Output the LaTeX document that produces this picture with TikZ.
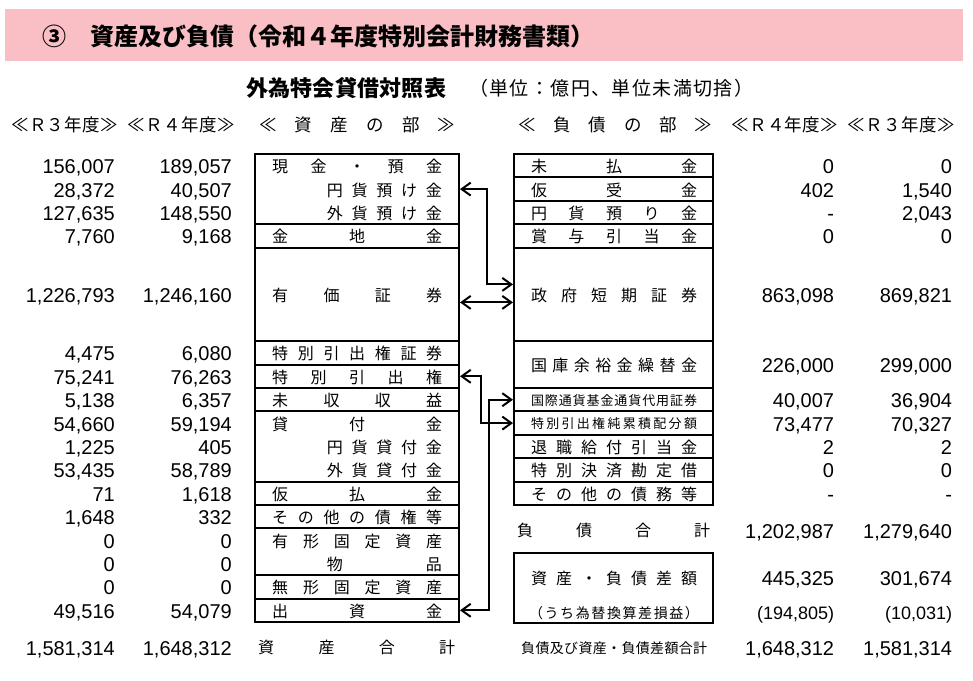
\documentclass[tikz,border=0pt]{standalone}
\usepackage{fontspec}
\usepackage{tikz}
\usetikzlibrary{arrows.meta}
\setmainfont{Noto Sans CJK JP}
\newfontfamily\numfont{Liberation Sans}
\definecolor{bandpink}{RGB}{249,191,197}
\newcommand\spr[2]{\makebox[#1][s]{\expandafter\sprloop#2\relax}}
\def\sprloop#1#2{#1\ifx\relax#2\else\hfil\expandafter\sprloop\expandafter#2\fi}

\begin{document}
\begin{tikzpicture}[x=1pt,y=-1pt,
    cell/.style={draw,line width=2pt,inner sep=0pt,minimum width=204pt},
    rcell/.style={cell,minimum width=199pt},
    jp/.style={inner sep=0pt,font=\fontsize{16}{16}\selectfont},
    smalljp/.style={inner sep=0pt,font=\fontsize{13}{13}\selectfont},
    hd/.style={inner sep=0pt,anchor=base west,font=\fontsize{17.5}{17.5}\selectfont},
    num/.style={inner sep=0pt,anchor=base east,font=\numfont\fontsize{20}{20}\selectfont},
    arr/.style={{Straight Barb[length=9pt,width=13pt]}-{Straight Barb[length=9pt,width=13pt]},line width=2pt}]
\useasboundingbox (0,0) rectangle (973,680);
\fill[bandpink] (5,9.3) rectangle (962.7,60.7);
\node[inner sep=0pt,anchor=base west,font=\bfseries\fontsize{24}{24}\selectfont] (title) at (42,45) {③　資産及び負債（令和４年度特別会計財務書類）};
\node[inner sep=0pt,anchor=base west,font=\bfseries\fontsize{22}{22}\selectfont] (sub) at (246,96) {\spr{200pt}{外為特会貸借対照表}};
\node[inner sep=0pt,anchor=base west,font=\fontsize{19}{19}\selectfont] (unit) at (469,95) {\spr{284pt}{（単位：億円、単位未満切捨）}};
\node[hd] (h1) at (11,131.7) {\spr{107pt}{≪Ｒ３年度≫}};
\node[hd] (h2) at (127,131.7) {\spr{108pt}{≪Ｒ４年度≫}};
\node[hd] (h3) at (259,131.7) {\spr{196pt}{≪資産の部≫}};
\node[hd] (h4) at (518,131.7) {\spr{194pt}{≪負債の部≫}};
\node[hd] (h5) at (731,131.7) {\spr{107pt}{≪Ｒ４年度≫}};
\node[hd] (h6) at (847,131.7) {\spr{108pt}{≪Ｒ３年度≫}};
\foreach \n/\a/\b in {A1/0/3,A2/3/4,A3/4/8,A4/8/9,A5/9/10,A6/10/11,A7/11/14,A8/14/15,A9/15/16,A10/16/18,A11/18/19,A12/19/20}
  \node[cell,minimum height={(\b-\a)*23.4}] (\n) at (357,{154+(\a+\b)/2*23.4}) {};
\foreach \n/\a/\b in {B1/0/1,B2/1/2,B3/2/3,B4/3/4,B5/4/8,B6/8/10,B7/10/11,B8/11/12,B9/12/13,B10/13/14,B11/14/15}
  \node[rcell,minimum height={(\b-\a)*23.4}] (\n) at (613.5,{154+(\a+\b)/2*23.4}) {};
\node[rcell,minimum height=70] (B12) at (613.5,588) {};
\foreach \s/\t [count=\i] in {0/現金・預金,3/金地金,5.5/有価証券,8/特別引出権証券,9/特別引出権,10/未収収益,11/貸付金,14/仮払金,15/その他の債権等,16/有形固定資産,18/無形固定資産,19/出資金}
  \node[jp,anchor=base west] (la\i) at (272,{154+(\s+.5)*23.4+7}) {\spr{170pt}{\t}};
\foreach \s/\t [count=\i] in {1/円貨預け金,2/外貨預け金,12/円貨貸付金,13/外貨貸付金,17/物品}
  \node[jp,anchor=base east] (ls\i) at (442,{154+(\s+.5)*23.4+7}) {\spr{115pt}{\t}};
\foreach \s/\t [count=\i] in {0/未払金,1/仮受金,2/円貨預り金,3/賞与引当金,5.5/政府短期証券,8.5/国庫余裕金繰替金,12/退職給付引当金,13/特別決済勘定借,14/その他の債務等}
  \node[jp,anchor=base] (lr\i) at (614,{154+(\s+.5)*23.4+7}) {\spr{166pt}{\t}};
\foreach \s/\t [count=\i] in {10/国際通貨基金通貨代用証券,11/特別引出権純累積配分額}
  \node[smalljp,anchor=base] (lm\i) at (614,{154+(\s+.5)*23.4+5.5}) {\spr{166pt}{\t}};
\node[jp,anchor=base west] (tA) at (258,653) {\spr{197pt}{資産合計}};
\node[jp,anchor=base west] (tL) at (517,536.5) {\spr{193pt}{負債合計}};
\node[jp,anchor=base] (dif) at (614,584) {\spr{166pt}{資産・負債差額}};
\node[inner sep=0pt,anchor=base,font=\fontsize{14}{14}\selectfont] (difx) at (614,618) {\spr{170pt}{（うち為替換算差損益）}};
\node[inner sep=0pt,anchor=base west,font=\fontsize{14}{14}\selectfont] (tT) at (521,653) {\spr{186pt}{負債及び資産・負債差額合計}};
\foreach \s/\a/\b [count=\i] in {0/{156,007}/{189,057},1/{28,372}/{40,507},2/{127,635}/{148,550},3/{7,760}/{9,168},5.5/{1,226,793}/{1,246,160},8/{4,475}/{6,080},9/{75,241}/{76,263},10/{5,138}/{6,357},11/{54,660}/{59,194},12/{1,225}/405,13/{53,435}/{58,789},14/71/{1,618},15/{1,648}/332,16/0/0,17/0/0,18/0/0,19/{49,516}/{54,079}}{
  \node[num] (p\i) at (115,{154+(\s+.5)*23.4+8}) {\a};
  \node[num] (q\i) at (232,{154+(\s+.5)*23.4+8}) {\b};}
\foreach \s/\a/\b [count=\i] in {0/0/0,1/402/{1,540},2/-/{2,043},3/0/0,5.5/{863,098}/{869,821},8.5/{226,000}/{299,000},10/{40,007}/{36,904},11/{73,477}/{70,327},12/2/2,13/0/0,14/-/-}{
  \node[num] (r\i) at (834.3,{154+(\s+.5)*23.4+8}) {\a};
  \node[num] (s\i) at (952.3,{154+(\s+.5)*23.4+8}) {\b};}
\foreach \y/\a/\b [count=\i] in {538/{1,202,987}/{1,279,640},585.5/{445,325}/{301,674},655.5/{1,648,312}/{1,581,314}}{
  \node[num] (u\i) at (834.3,\y) {\a};
  \node[num] (v\i) at (952.3,\y) {\b};}
\node[num,font=\numfont\fontsize{18}{18}\selectfont] (u4) at (834.3,619.5) {(194,805)};
\node[num,font=\numfont\fontsize{18}{18}\selectfont] (v4) at (952.3,619.5) {(10,031)};
\node[num] (pT) at (115,655) {1,581,314};
\node[num] (qT) at (232,655) {1,648,312};
\draw[arr] (A1.east) -- ++(27,0) |- ([yshift=10pt]B5.west);
\draw[arr] ([yshift=-8pt]A3.east) -- ([yshift=-8pt]B5.west);
\draw[arr] (A5.east) -- ++(21,0) |- (B8.west);
\draw[arr] (A12.east) -- ++(29,0) |- (B7.west);
\end{tikzpicture}
\end{document}
